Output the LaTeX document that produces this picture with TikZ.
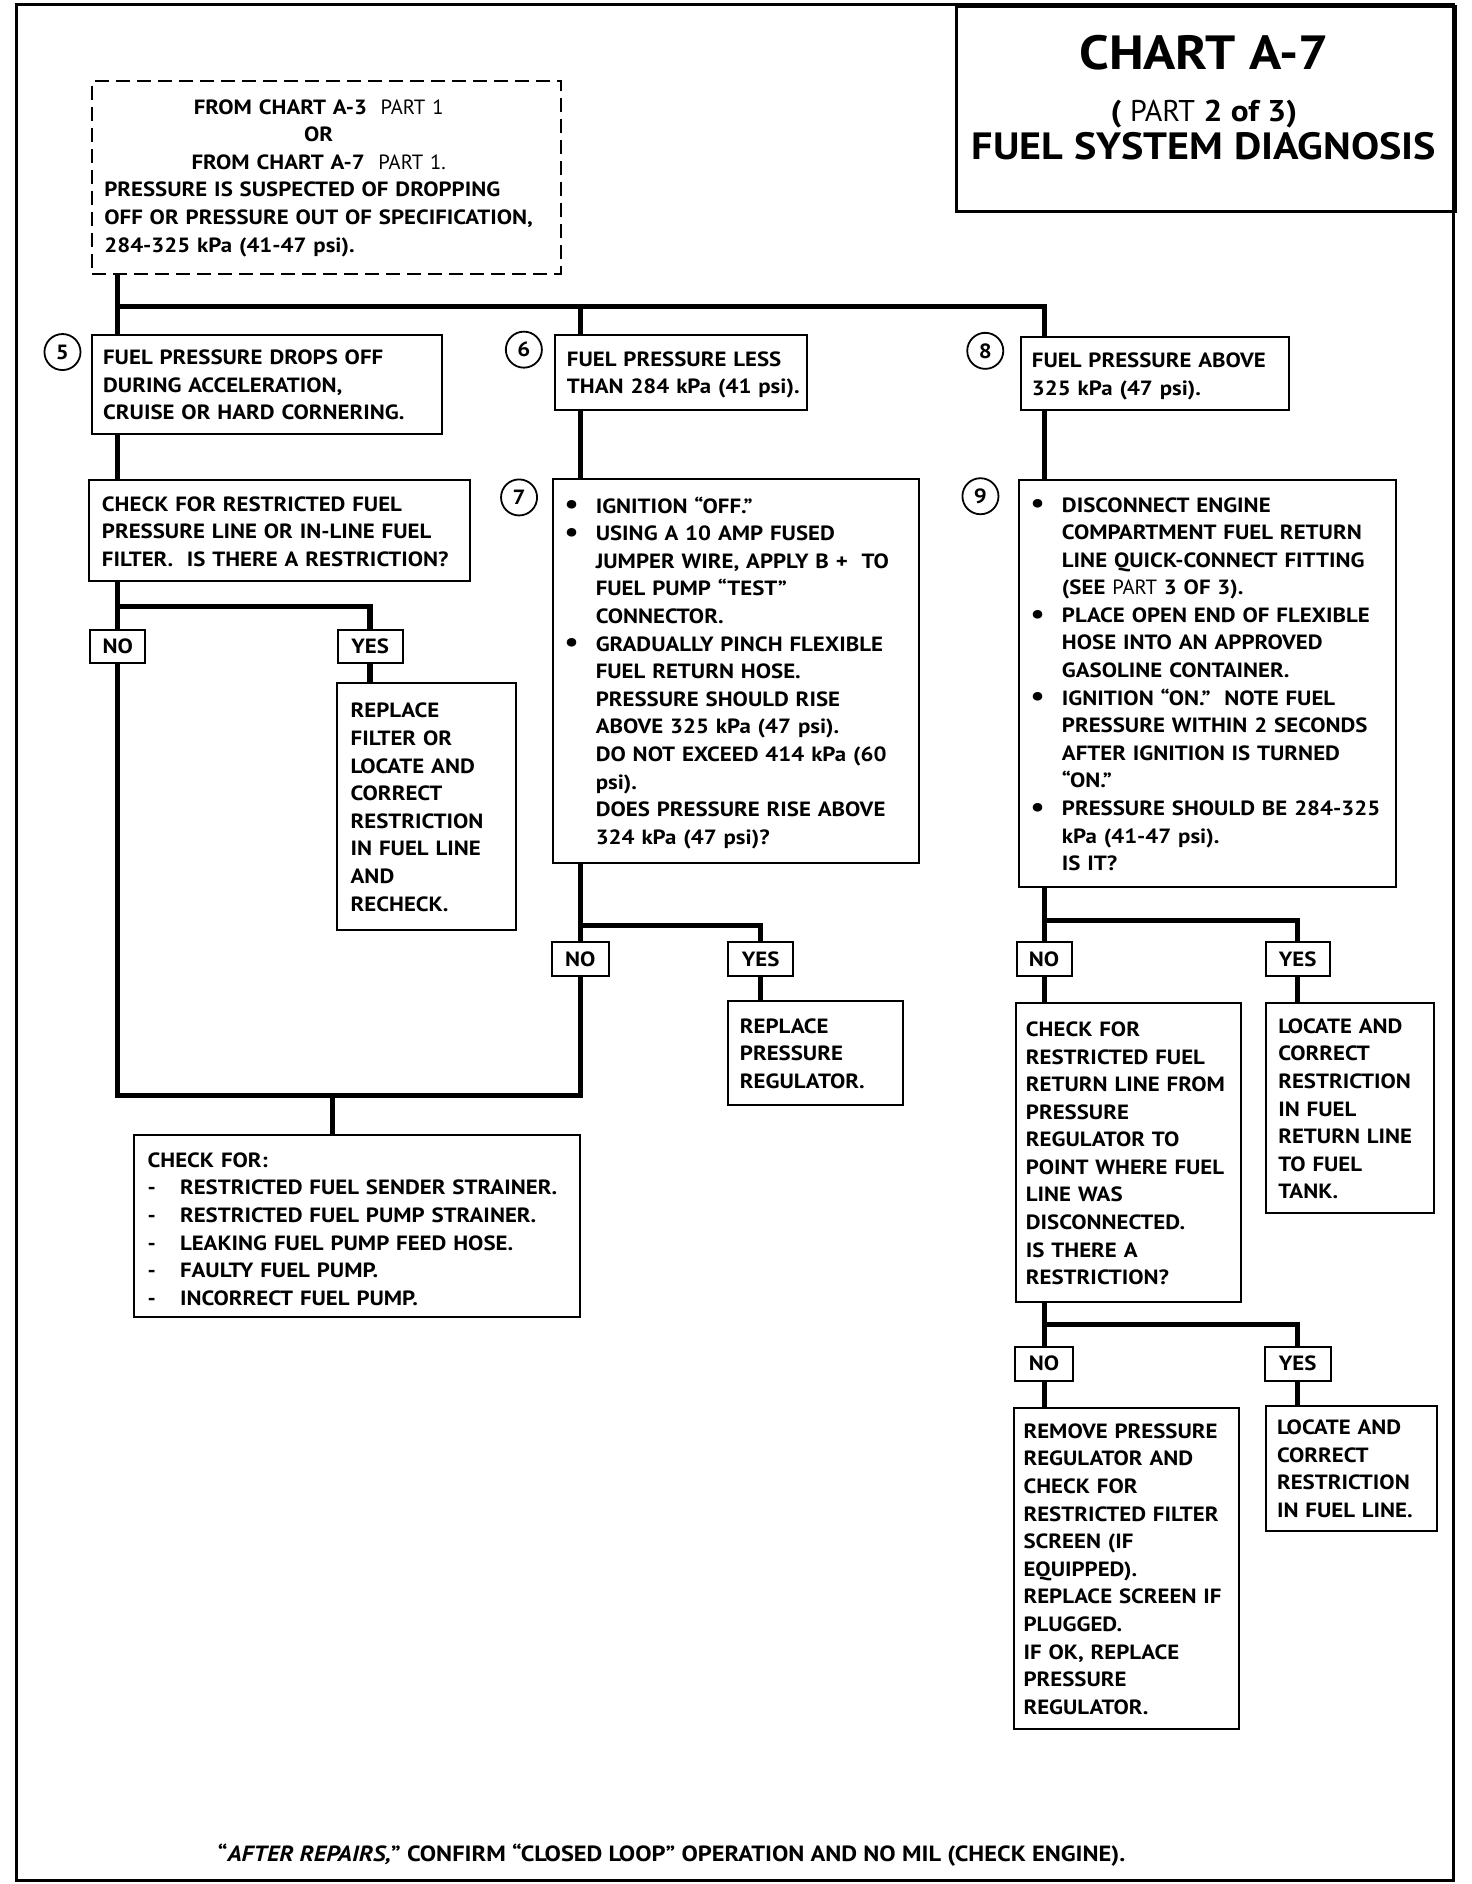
\documentclass[tikz,border=0pt]{standalone}
\usepackage{fontspec}
\setmainfont{PT Sans}[BoldFeatures={FakeStretch=1.11},BoldItalicFeatures={FakeStretch=1.11}]
\usetikzlibrary{positioning,calc}
\newdimen\px \px=0.6008pt
\newcommand{\bodyfont}{\fontsize{10.3}{13.8}\selectfont\bfseries}
\newcommand{\thin}[1]{{\mdseries #1}}
\newcommand{\bul}{\makebox[26\px][l]{\raisebox{-0.4pt}{\fontsize{14}{13.8}\selectfont\textbullet}}}
% rows of a box, left padding in px
\newcommand{\boxtext}[2][9]{\raisebox{-2\px}[\height][\depth]{\begin{tabular}{@{\hspace*{#1\px}}l@{}}#2\end{tabular}}}
\newcommand{\bultext}[2][10]{\raisebox{-2\px}[\height][\depth]{\begin{tabular}{@{\hspace*{#1\px}}l@{}l@{}}#2\end{tabular}}}

\begin{document}
\begin{tikzpicture}[x=0.6008pt, y=-0.6008pt, font=\bodyfont,
  box/.style 2 args={draw,line width=1pt,anchor=north west,inner sep=0pt,
    minimum width=#1\px,minimum height=#2\px,text width=#1\px,align=left},
  tag/.style={draw,line width=1pt,inner sep=0pt,minimum height=28\px,minimum width=#1\px},
  num/.style={draw,circle,line width=0.9pt,minimum size=30\px,inner sep=0pt},
  conn/.style={line width=2.6pt}]

\useasboundingbox (0,0) rectangle (1225,1568);
\draw[line width=1.6pt] (14,4) rectangle (1210,1565);

% title
\node[box={415}{171},line width=1.4pt] (title) at (795,4) {};
\node[anchor=base,font=\fontsize{24}{24}\selectfont\bfseries] (t1) at (1002,58) {CHART A-7};
\node[anchor=base,font=\fontsize{15}{15}\selectfont\bfseries] (t2) at (1002,101) {( \thin{PART} 2 of 3)};
\node[anchor=base,font=\fontsize{19}{19}\selectfont\bfseries] (t3) at (1002,133) {FUEL SYSTEM DIAGNOSIS};

% entry
\node[box={390}{160},dashed,dash pattern=on 7pt off 3.5pt] (dash) at (76,67) {\begin{tabular}{@{\hspace*{10\px}}l@{}}
\multicolumn{1}{@{\hspace*{10\px}}c@{}}{FROM CHART A-3 \ \thin{PART 1}}\\
\multicolumn{1}{@{\hspace*{10\px}}c@{}}{OR}\\
\multicolumn{1}{@{\hspace*{10\px}}c@{}}{FROM CHART A-7 \ \thin{PART 1.}}\\
PRESSURE IS SUSPECTED OF DROPPING\\
OFF OR PRESSURE OUT OF SPECIFICATION,\\
284-325 kPa (41-47 psi).\end{tabular}};

% first row
\node[box={291}{82}] (b5) at (76,278) {\boxtext{FUEL PRESSURE DROPS OFF\\DURING ACCELERATION,\\CRUISE OR HARD CORNERING.}};
\node[box={210}{62}] (b6) at (461,278) {\boxtext[10]{FUEL PRESSURE LESS\\THAN 284 kPa (41 psi).}};
\node[box={223}{60}] (b8) at (849,280) {\boxtext{FUEL PRESSURE ABOVE\\325 kPa (47 psi).}};
\node[num] (n5) at (52,293) {5};
\node[num] (n6) at (436,291) {6};
\node[num] (n8) at (820,292) {8};

% second row
\node[box={317}{84}] (chk1) at (73,399) {\boxtext[11]{CHECK FOR RESTRICTED FUEL\\PRESSURE LINE OR IN-LINE FUEL\\FILTER.\ \ IS THERE A RESTRICTION?}};
\node[box={305}{319}] (b7) at (459,398) {\bultext{\bul & IGNITION “OFF.”\\
\bul & USING A 10 AMP FUSED\\ & JUMPER WIRE, APPLY B + \ TO\\ & FUEL PUMP “TEST”\\ & CONNECTOR.\\
\bul & GRADUALLY PINCH FLEXIBLE\\ & FUEL RETURN HOSE.\\ & PRESSURE SHOULD RISE\\ & ABOVE 325 kPa (47 psi).\\
 & DO NOT EXCEED 414 kPa (60\\ & psi).\\ & DOES PRESSURE RISE ABOVE\\ & 324 kPa (47 psi)?}};
\node[box={314}{338}] (b9) at (847,399) {\bultext{\bul & DISCONNECT ENGINE\\ & COMPARTMENT FUEL RETURN\\
 & LINE QUICK-CONNECT FITTING\\ & (SEE \thin{PART} 3 OF 3).\\
\bul & PLACE OPEN END OF FLEXIBLE\\ & HOSE INTO AN APPROVED\\ & GASOLINE CONTAINER.\\
\bul & IGNITION “ON.” \ NOTE FUEL\\ & PRESSURE WITHIN 2 SECONDS\\ & AFTER IGNITION IS TURNED\\ & “ON.”\\
\bul & PRESSURE SHOULD BE 284-325\\ & kPa (41-47 psi).\\ & IS IT?}};
\node[num] (n7) at (432,414) {7};
\node[num] (n9) at (816,413) {9};

% answers
\node[tag=46] (no1) at (98,538) {NO};
\node[tag=54] (yes1) at (308,538) {YES};
\node[tag=47] (no2) at (483,798) {NO};
\node[tag=54] (yes2) at (633,798) {YES};
\node[tag=46] (no3) at (869,798) {NO};
\node[tag=53] (yes3) at (1080,798) {YES};
\node[tag=48] (no4) at (869,1135) {NO};
\node[tag=55] (yes4) at (1080,1135) {YES};

\node[box={149}{205}] (rep1) at (280,568) {\boxtext[11]{REPLACE\\FILTER OR\\LOCATE AND\\CORRECT\\RESTRICTION\\IN FUEL LINE\\AND\\RECHECK.}};
\node[box={146}{87}] (rep2) at (605,832) {\boxtext[10]{REPLACE\\PRESSURE\\REGULATOR.}};
\node[box={187}{249}] (chk3) at (845,834) {\boxtext[8]{CHECK FOR\\RESTRICTED FUEL\\RETURN LINE FROM\\PRESSURE\\REGULATOR TO\\POINT WHERE FUEL\\LINE WAS\\DISCONNECTED.\\IS THERE A\\RESTRICTION?}};
\node[box={140}{175}] (loc1) at (1053,834) {\boxtext[10]{LOCATE AND\\CORRECT\\RESTRICTION\\IN FUEL\\RETURN LINE\\TO FUEL\\TANK.}};
\node[box={187}{267}] (rem) at (843,1171) {\boxtext[8]{REMOVE PRESSURE\\REGULATOR AND\\CHECK FOR\\RESTRICTED FILTER\\SCREEN (IF\\EQUIPPED).\\REPLACE SCREEN IF\\PLUGGED.\\IF OK, REPLACE\\PRESSURE\\REGULATOR.}};
\node[box={142}{104}] (loc2) at (1053,1169) {\boxtext[9]{LOCATE AND\\CORRECT\\RESTRICTION\\IN FUEL LINE.}};
\node[box={371}{151}] (chkfor) at (111,944) {\raisebox{-4\px}[\height][\depth]{\begin{tabular}{@{\hspace*{11\px}}l@{}l@{}}
\multicolumn{2}{@{\hspace*{11\px}}l@{}}{CHECK FOR:}\\
\makebox[27\px][l]{-} & RESTRICTED FUEL SENDER STRAINER.\\
- & RESTRICTED FUEL PUMP STRAINER.\\
- & LEAKING FUEL PUMP FEED HOSE.\\
- & FAULTY FUEL PUMP.\\
- & INCORRECT FUEL PUMP.\end{tabular}}};

\node[anchor=base,font=\fontsize{11}{13}\selectfont\bfseries] (note) at (559,1549) {“\textit{AFTER REPAIRS,}” CONFIRM “CLOSED LOOP” OPERATION AND NO MIL (CHECK ENGINE).};

% junctions
\coordinate (j1) at (98,255);
\coordinate (j2) at (98,505);
\coordinate (j3) at (483,770);
\coordinate (j4) at (869,766);
\coordinate (j5) at (277,912);
\coordinate (j6) at (869,1102);

\draw[conn] (dash.south -| no1) -- (b5.north -| no1);
\draw[conn] (j1) -| (b6.north -| no2);
\draw[conn] (j1) -| (b8.north -| no3);
\draw[conn] (b5.south -| no1) -- (chk1.north -| no1);
\draw[conn] (chk1.south -| no1) -- (no1.north);
\draw[conn] (j2) -| (yes1.north);
\draw[conn] (yes1.south) -- (rep1.north -| yes1);
\draw[conn] (no1.south) |- (j5) -- (chkfor.north -| j5);
\draw[conn] (no2.south) |- (j5);
\draw[conn] (b6.south -| no2) -- (b7.north -| no2);
\draw[conn] (b7.south -| no2) -- (no2.north);
\draw[conn] (j3) -| (yes2.north);
\draw[conn] (yes2.south) -- (rep2.north -| yes2);
\draw[conn] (b8.south -| no3) -- (b9.north -| no3);
\draw[conn] (b9.south -| no3) -- (no3.north);
\draw[conn] (j4) -| (yes3.north);
\draw[conn] (no3.south) -- (chk3.north -| no3);
\draw[conn] (yes3.south) -- (loc1.north -| yes3);
\draw[conn] (chk3.south -| no4) -- (no4.north);
\draw[conn] (j6) -| (yes4.north);
\draw[conn] (no4.south) -- (rem.north -| no4);
\draw[conn] (yes4.south) -- (loc2.north -| yes4);
\end{tikzpicture}
\end{document}
